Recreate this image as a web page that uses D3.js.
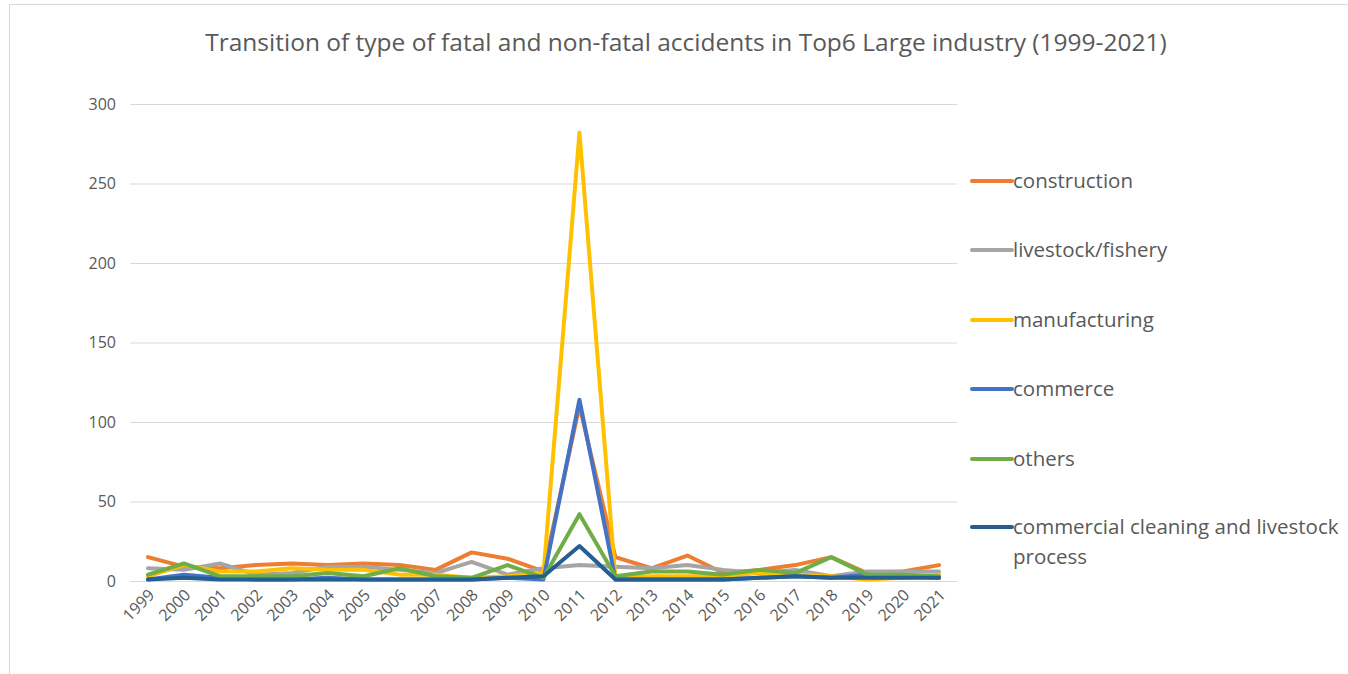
<!DOCTYPE html>
<html>
<head>
<meta charset="utf-8">
<script src="https://cdn.jsdelivr.net/npm/d3@7"></script>
<style>
  body { margin: 0; background: #fff; }
  svg { display: block; font-family: "Open Sans", Lato, sans-serif; }
</style>
</head>
<body>
<div id="output"></div>
<script>
var years = ["1999","2000","2001","2002","2003","2004","2005","2006","2007","2008","2009","2010",
             "2011","2012","2013","2014","2015","2016","2017","2018","2019","2020","2021"];
var yTicks = [0, 50, 100, 150, 200, 250, 300];

var seriesNames = ["construction", "livestock/fishery", "manufacturing", "commerce", "others",
                   "commercial cleaning and livestock process"];
var colors = ["#ED7D31", "#A5A5A5", "#FFC000", "#4472C4", "#70AD47", "#255E91"];

var construction = [15, 9, 8, 10, 11, 10, 11, 10, 7, 18, 14, 6, 110, 15, 8, 16, 5, 7, 10, 15, 5, 6, 10];
var livestock    = [8, 7, 11, 4, 5, 9, 9, 7, 5, 12, 4, 8, 10, 9, 8, 10, 7, 5, 7, 3, 6, 6, 6];
var manufacturing= [3, 10, 6, 6, 8, 7, 7, 4, 4, 2, 3, 5, 282, 2, 3, 3, 3, 5, 4, 3, 1, 2, 4];
var commerce     = [1, 4, 2, 1, 1, 2, 1, 1, 1, 1, 2, 1, 114, 1, 1, 1, 1, 2, 3, 2, 4, 3, 2];
var others       = [4, 11, 3, 3, 3, 5, 3, 8, 3, 2, 10, 2, 42, 3, 6, 6, 4, 7, 5, 15, 4, 4, 3];
var cleaning     = [1, 2, 1, 1, 1, 1, 1, 1, 1, 1, 2, 3, 22, 1, 1, 1, 1, 2, 3, 2, 2, 2, 2];

var seriesValues = [construction, livestock, manufacturing, commerce, others, cleaning];

var width = 1348, height = 674;
var svg = d3.select("#output").append("svg")
  .attr("width", width)
  .attr("height", height);

// chart border (only left and top visible in the frame)
svg.append("rect")
  .attr("x", 9.5).attr("y", 4.5)
  .attr("width", 1400).attr("height", 700)
  .attr("fill", "none")
  .attr("stroke", "#d9d9d9");

// title
svg.append("text")
  .attr("x", 686).attr("y", 51)
  .attr("text-anchor", "middle")
  .attr("fill", "#595959")
  .style("font-size", "24.5px")
  .text("Transition of type of fatal and non-fatal accidents in Top6 Large industry (1999-2021)");

var x = d3.scalePoint().domain(years).range([130, 957]).padding(0.5);
var y = d3.scaleLinear().domain([0, 300]).range([581, 104]);

// gridlines
svg.append("g")
  .selectAll("line")
  .data(yTicks)
  .join("line")
  .attr("x1", 130).attr("x2", 957)
  .attr("y1", function (d) { return y(d) + 0.5; })
  .attr("y2", function (d) { return y(d) + 0.5; })
  .attr("stroke", "#d9d9d9")
  .attr("stroke-width", 1);

// y axis labels
var yAxis = d3.axisLeft(y).tickValues(yTicks).tickSize(0).tickPadding(0);
var yg = svg.append("g").attr("transform", "translate(116,0)").call(yAxis);
yg.select(".domain").remove();
yg.selectAll("text")
  .attr("fill", "#595959")
  .style("font-size", "16px")
  .style("font-family", "\"Open Sans\", Lato, sans-serif");

// x axis labels
var xAxis = d3.axisBottom(x).tickSize(0).tickPadding(0);
var xg = svg.append("g").attr("transform", "translate(0,581)").call(xAxis);
xg.select(".domain").remove();
xg.selectAll("text")
  .attr("fill", "#595959")
  .style("font-size", "16px")
  .style("font-family", "\"Open Sans\", Lato, sans-serif")
  .attr("text-anchor", "end")
  .attr("dy", null)
  .attr("y", 0)
  .attr("transform", "translate(7,15) rotate(-45)");

// lines
var line = d3.line()
  .x(function (d, i) { return x(years[i]); })
  .y(function (d) { return y(d); });

seriesValues.forEach(function (vals, k) {
  svg.append("path")
    .datum(vals)
    .attr("d", line)
    .attr("fill", "none")
    .attr("stroke", colors[k])
    .attr("stroke-width", 4)
    .attr("stroke-linejoin", "round")
    .attr("stroke-linecap", "round");
});

// legend
var legendY = [181, 250, 320, 389, 459, 527];
seriesNames.forEach(function (name, k) {
  var g = svg.append("g").attr("transform", "translate(0," + legendY[k] + ")");
  g.append("line")
    .attr("x1", 972).attr("x2", 1012)
    .attr("y1", 0).attr("y2", 0)
    .attr("stroke", colors[k])
    .attr("stroke-width", 4)
    .attr("stroke-linecap", "round");
  var t = g.append("text")
    .attr("x", 1013).attr("y", 7)
    .attr("fill", "#595959")
    .style("font-size", "20.5px");
  if (k === 5) {
    t.append("tspan").attr("x", 1013).text("commercial cleaning and livestock");
    t.append("tspan").attr("x", 1013).attr("dy", 30).text("process");
  } else {
    t.text(name);
  }
});
</script>
</body>
</html>
